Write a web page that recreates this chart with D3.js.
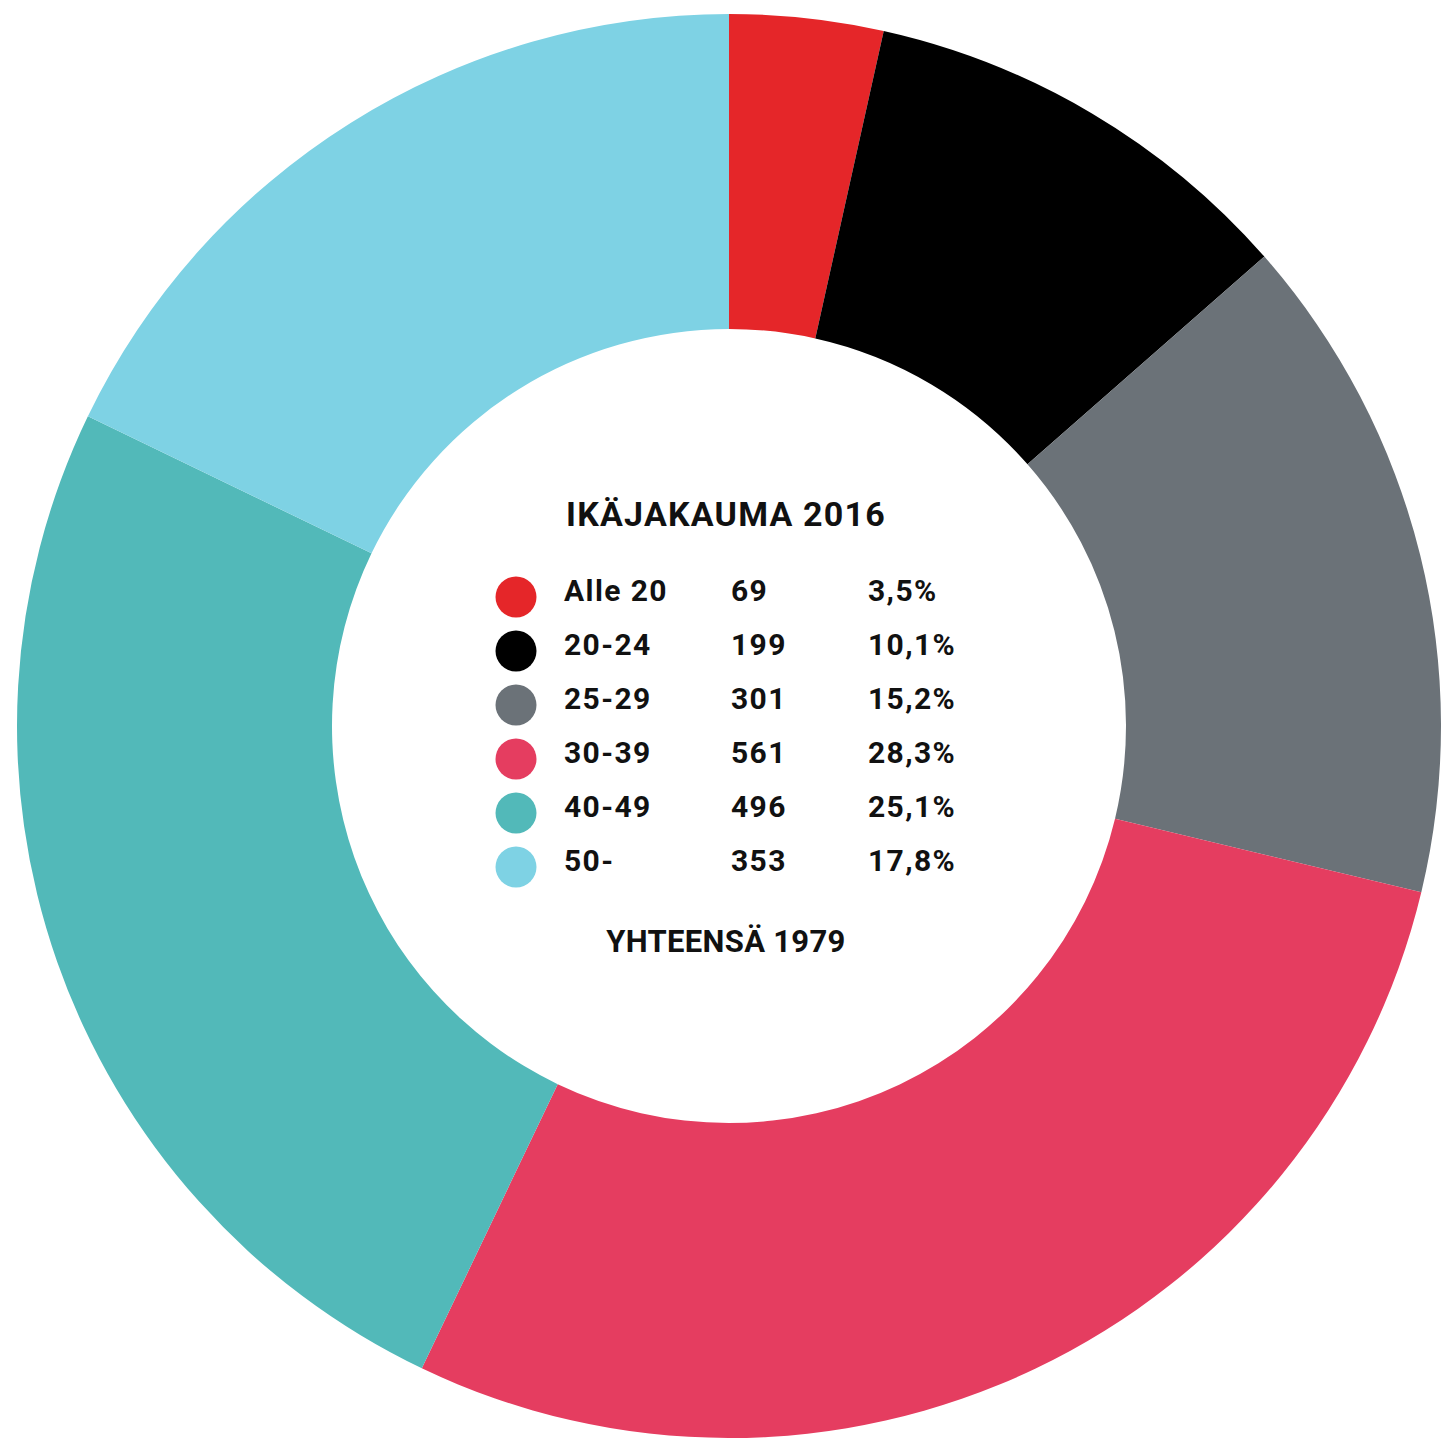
<!DOCTYPE html>
<html>
<head>
<meta charset="utf-8">
<script src="https://cdn.jsdelivr.net/npm/d3@7"></script>
<style>
    body { margin: 0; background: #ffffff; }
    svg { display: block; }
</style>
</head>
<body>
<div id="grafIkajakauma"></div>
<script>
// data
const ageGroups = ["Alle 20", "20-24", "25-29", "30-39", "40-49", "50-"];
const ageCounts = [69, 199, 301, 561, 496, 353];
const agePercents = ["3,5%", "10,1%", "15,2%", "28,3%", "25,1%", "17,8%"];
const ageColors = ["#e52629", "#000000", "#6b7278", "#e53d60", "#52b9b9", "#7ed2e4"];
const chartTitle = "IKÄJAKAUMA 2016";
const totalLabel = "YHTEENSÄ 1979";

let svgIka;
let canvasWidthIka, canvasHeightIka, centerX, centerY, outerR, innerR;

window.addEventListener("load", function () {
    graficoIka();
});

function graficoIka() {
    canvasWidthIka = 1444;
    canvasHeightIka = 1439;
    centerX = 729;
    centerY = 726;
    outerR = 712;
    innerR = 397;

    svgIka = d3.select("#grafIkajakauma")
        .append("svg")
        .attr("width", canvasWidthIka)
        .attr("height", canvasHeightIka);

    const data = ageGroups.map((g, i) => ({
        group: g,
        count: ageCounts[i],
        pct: agePercents[i],
        color: ageColors[i]
    }));

    // donut, clockwise from 12 o'clock, no sorting
    const pie = d3.pie()
        .sort(null)
        .value(d => d.count);

    const arc = d3.arc()
        .innerRadius(innerR)
        .outerRadius(outerR);

    const donut = svgIka.append("g")
        .attr("transform", `translate(${centerX}, ${centerY})`);

    donut.selectAll("path")
        .data(pie(data))
        .join("path")
        .attr("fill", d => d.data.color)
        .attr("d", arc);

    // --- legend in the hole ---
    const font = "Roboto, 'DejaVu Sans', sans-serif";

    svgIka.append("text")
        .attr("x", 726)
        .attr("y", 526)
        .attr("text-anchor", "middle")
        .style("font-family", font)
        .style("font-weight", 700)
        .style("font-size", "34px")
        .style("letter-spacing", "1.2px")
        .style("fill", "#111")
        .text(chartTitle);

    const rowY = d3.scalePoint()
        .domain(ageGroups)
        .range([601, 871]);

    const rows = svgIka.append("g")
        .selectAll("g")
        .data(data)
        .join("g")
        .attr("transform", d => `translate(0, ${rowY(d.group)})`);

    rows.append("circle")
        .attr("cx", 516)
        .attr("cy", -4)
        .attr("r", 20.5)
        .attr("fill", d => d.color);

    const cols = [
        { x: 564, get: d => d.group },
        { x: 731, get: d => d.count },
        { x: 868, get: d => d.pct }
    ];

    cols.forEach(c => {
        rows.append("text")
            .attr("x", c.x)
            .attr("y", 0)
            .style("font-family", font)
            .style("font-weight", 700)
            .style("font-size", "30px")
            .style("letter-spacing", "1.4px")
            .style("fill", "#111")
            .text(c.get);
    });

    svgIka.append("text")
        .attr("x", 726)
        .attr("y", 952)
        .attr("text-anchor", "middle")
        .style("font-family", font)
        .style("font-weight", 700)
        .style("font-size", "31px")
        .style("letter-spacing", "0.3px")
        .style("fill", "#111")
        .text(totalLabel);
}
</script>
</body>
</html>
